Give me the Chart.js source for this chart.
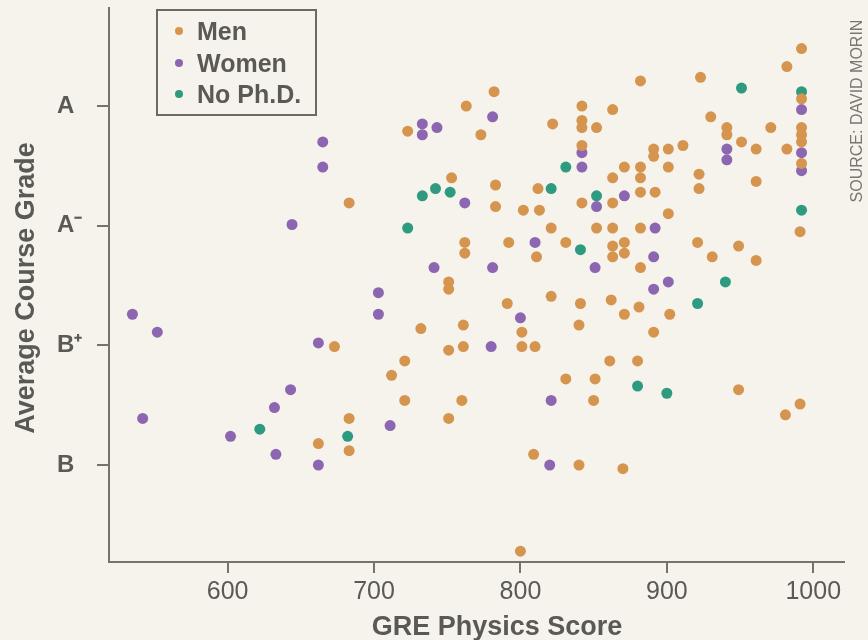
<!DOCTYPE html>
<html>
<head>
<meta charset="utf-8">
<title>GRE Physics Score vs Average Course Grade</title>
<script src="https://cdn.jsdelivr.net/npm/chart.js@4.4.1/dist/chart.umd.min.js"></script>
<style>
    html, body { margin: 0; padding: 0; background: #F5F3EC; }
    #wrap { width: 868px; height: 640px; }
</style>
</head>
<body>
<div id="wrap"><canvas id="gradeChart" width="868" height="640"></canvas></div>
<script>
// GRE physics score (x) and average course grade on a 4-point scale (y)
const menScores = [782, 763, 723, 773, 822, 753, 783, 812, 683, 783, 802, 813,
    992, 982, 882, 923, 992, 842, 863, 842, 842, 852, 930, 941, 941, 971, 992, 992, 992,
    842, 891, 891, 901, 911, 951, 961, 982, 992, 871, 882, 901, 863, 882, 922, 922, 961,
    882, 892, 842, 863, 901, 991, 852, 863, 882, 831, 863, 863, 871, 871, 921, 949, 931,
    961, 882, 841, 862, 881, 871, 902, 840, 891, 861, 880, 831, 851, 949, 850, 991, 981,
    840, 870, 821, 762, 762, 792, 811, 751, 751, 791, 821, 761, 732, 801, 673, 751, 761,
    801, 810, 721, 712, 721, 760, 683, 751, 662, 683, 809, 800];
const menGrades = [4.04, 4.00, 3.93, 3.92, 3.95, 3.80, 3.78, 3.77, 3.73, 3.72, 3.71, 3.71,
    4.16, 4.11, 4.07, 4.08, 4.02, 4.00, 3.99, 3.96, 3.94, 3.94, 3.97, 3.94, 3.92, 3.94, 3.94, 3.92, 3.90,
    3.89, 3.88, 3.86, 3.88, 3.89, 3.90, 3.88, 3.88, 3.84, 3.83, 3.83, 3.83, 3.80, 3.80, 3.81, 3.77, 3.79,
    3.76, 3.76, 3.73, 3.73, 3.70, 3.65, 3.66, 3.66, 3.66, 3.62, 3.61, 3.58, 3.62, 3.59, 3.62, 3.61, 3.58,
    3.57, 3.55, 3.45, 3.46, 3.44, 3.42, 3.42, 3.39, 3.37, 3.29, 3.29, 3.24, 3.24, 3.21, 3.18, 3.17, 3.14,
    3.00, 2.99, 3.66, 3.62, 3.59, 3.62, 3.58, 3.51, 3.49, 3.45, 3.47, 3.39, 3.38, 3.37, 3.33, 3.32, 3.33,
    3.33, 3.33, 3.29, 3.25, 3.18, 3.18, 3.13, 3.13, 3.06, 3.04, 3.03, 2.76];

const womenScores = [781, 733, 733, 743, 665, 665, 762, 992, 842, 842, 941, 941, 992, 992,
    852, 871, 892, 891, 851, 901, 891, 644, 810, 741, 781, 703, 703, 800, 662, 780, 643,
    821, 711, 662, 820, 542, 632, 602, 633, 535, 552];
const womenGrades = [3.97, 3.95, 3.92, 3.94, 3.90, 3.83, 3.73, 3.99, 3.87, 3.83, 3.88, 3.85, 3.87, 3.82,
    3.72, 3.75, 3.66, 3.58, 3.55, 3.51, 3.49, 3.67, 3.62, 3.55, 3.55, 3.48, 3.42, 3.41, 3.34, 3.33, 3.21,
    3.18, 3.11, 3.00, 3.00, 3.13, 3.16, 3.08, 3.03, 3.42, 3.37];

const noPhdScores = [742, 752, 733, 821, 831, 951, 992, 852, 992, 841, 940, 921, 880, 900, 723, 682, 622];
const noPhdGrades = [3.77, 3.76, 3.75, 3.77, 3.83, 4.05, 4.04, 3.75, 3.71, 3.60, 3.51, 3.45, 3.22, 3.20, 3.66, 3.08, 3.10];

const groupNames = ['Men', 'Women', 'No Ph.D.'];
const groupColors = ['#D6954E', '#8C66B0', '#2E9B80'];

const scoreTicks = [600, 700, 800, 900, 1000];
const gradeTicks = [3.0, 3.333, 3.667, 4.0];
const gradeLabels = ['B', 'B\u207A', 'A\u207B', 'A'];

const textColor = '#5a5954';
const axisColor = '#74736c';
const fontFamily = '"Liberation Sans", Arial, Helvetica, sans-serif';

function toPoints(xs, ys) {
    return xs.map((x, i) => ({ x: x, y: ys[i] }));
}

// background, axis titles, source note and the boxed legend
const decorations = {
    id: 'decorations',
    beforeDraw(chart) {
        const ctx = chart.ctx;
        ctx.save();
        ctx.fillStyle = '#F5F3EC';
        ctx.fillRect(0, 0, chart.width, chart.height);
        ctx.restore();
    },
    afterDraw(chart) {
        const ctx = chart.ctx;
        ctx.save();
        ctx.fillStyle = textColor;

        // x title
        ctx.font = 'bold 27px ' + fontFamily;
        ctx.textAlign = 'center';
        ctx.textBaseline = 'alphabetic';
        ctx.fillText('GRE Physics Score', 497, 635);

        // y title
        ctx.save();
        ctx.translate(34, 288);
        ctx.rotate(-Math.PI / 2);
        ctx.fillText('Average Course Grade', 0, 0);
        ctx.restore();

        // source
        ctx.save();
        ctx.fillStyle = '#77766f';
        ctx.font = '16px ' + fontFamily;
        ctx.translate(862, 111);
        ctx.rotate(-Math.PI / 2);
        ctx.fillText('SOURCE: DAVID MORIN', 0, 0);
        ctx.restore();

        // legend box
        ctx.strokeStyle = '#6a6962';
        ctx.lineWidth = 2;
        ctx.strokeRect(157, 10, 159, 105);
        const baselines = [40, 72, 103];
        ctx.font = 'bold 25px ' + fontFamily;
        ctx.textAlign = 'left';
        chart.data.datasets.forEach((ds, i) => {
            ctx.fillStyle = ds.backgroundColor;
            ctx.beginPath();
            ctx.arc(179, baselines[i] - 9, 4, 0, Math.PI * 2);
            ctx.fill();
            ctx.fillStyle = textColor;
            ctx.fillText(ds.label, 197, baselines[i]);
        });
        ctx.restore();
    }
};

document.addEventListener('DOMContentLoaded', function() {
    const ctx = document.getElementById('gradeChart').getContext('2d');
    const datasets = [
        toPoints(menScores, menGrades),
        toPoints(womenScores, womenGrades),
        toPoints(noPhdScores, noPhdGrades)
    ].map((pts, i) => ({
        label: groupNames[i],
        data: pts,
        backgroundColor: groupColors[i],
        borderWidth: 0,
        pointRadius: 5.5,
        pointHoverRadius: 5.5
    }));

    new Chart(ctx, {
        type: 'scatter',
        data: { datasets: datasets },
        options: {
            responsive: false,
            animation: false,
            devicePixelRatio: 1,
            events: [],
            layout: {
                padding: { left: 57, top: 8, right: 24, bottom: 0 }
            },
            plugins: {
                legend: { display: false },
                title: { display: false },
                tooltip: { enabled: false }
            },
            scales: {
                x: {
                    type: 'linear',
                    min: 519,
                    max: 1021,
                    afterFit: s => { s.height = 78; s.paddingLeft = 0; s.paddingRight = 0; },
                    afterBuildTicks: s => { s.ticks = scoreTicks.map(v => ({ value: v })); },
                    grid: {
                        drawOnChartArea: false,
                        drawTicks: true,
                        tickLength: 11,
                        color: axisColor,
                        lineWidth: 2
                    },
                    border: { color: axisColor, width: 2 },
                    ticks: {
                        color: textColor,
                        padding: 4,
                        maxRotation: 0,
                        font: { family: fontFamily, size: 25 },
                        callback: value => String(value)
                    }
                },
                y: {
                    type: 'linear',
                    min: 2.73,
                    max: 4.273,
                    afterFit: s => { s.width = 52; s.paddingTop = 0; s.paddingBottom = 0; },
                    afterBuildTicks: s => { s.ticks = gradeTicks.map(v => ({ value: v })); },
                    grid: {
                        drawOnChartArea: false,
                        drawTicks: true,
                        tickLength: 12,
                        color: axisColor,
                        lineWidth: 2
                    },
                    border: { color: axisColor, width: 2 },
                    ticks: {
                        color: textColor,
                        crossAlign: 'far',
                        font: { family: fontFamily, size: 24, weight: 'bold' },
                        callback: function(value) {
                            const i = gradeTicks.indexOf(value);
                            return i >= 0 ? gradeLabels[i] : '';
                        }
                    }
                }
            }
        },
        plugins: [decorations]
    });
});
</script>
</body>
</html>
